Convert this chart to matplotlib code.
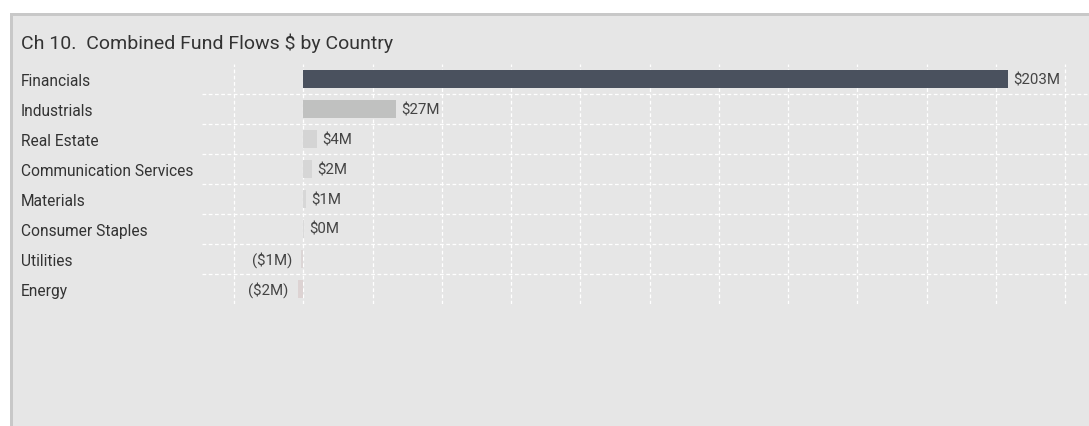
import numpy as np
import matplotlib.pyplot as plt
from matplotlib.patches import Rectangle

# Data
sectors = ['Financials', 'Industrials', 'Real Estate', 'Communication Services',
           'Materials', 'Consumer Staples', 'Utilities', 'Energy']
flows = [203.4, 26.8, 3.9, 2.4, 0.7, 0.3, -0.6, -1.6]  # $M
colors = ['#4a515e', '#c0c1c0', '#d4d4d4', '#d6d6d6', '#d7d7d7', '#dadada',
          '#dcd6d6', '#ddd3d3']

W, H = 1089, 427
plt.rcParams['font.family'] = ['Roboto', 'DejaVu Sans']

fig = plt.figure(figsize=(W / 100, H / 100), dpi=100)
fig.patch.set_facecolor('white')

# Panel with grey border on top and left
fig.patches.append(Rectangle((10 / W, 0), 1, (H - 14) / H, transform=fig.transFigure,
                             facecolor='#c8c8c8', edgecolor='none', zorder=-10))
fig.patches.append(Rectangle((13 / W, 0), 1, (H - 17) / H, transform=fig.transFigure,
                             facecolor='#e6e6e6', edgecolor='none', zorder=-9))

fig.text(21 / W, 1 - 43 / H, 'Ch 10.  Combined Fund Flows $ by Country',
         fontsize=14, color='#333333', ha='left', va='center')

ax = fig.add_axes([202 / W, 1 - 305 / H, (W - 202) / W, 240 / H])
ax.set_facecolor('#e6e6e6')

y = np.arange(len(sectors))
ax.barh(y, flows, height=0.63, color=colors, zorder=2)

ax.set_ylim(len(sectors) - 0.5, -0.5)
ax.set_xlim(-29.26, 226.9)

# value labels
for yi, v in zip(y, flows):
    if v >= 0:
        txt = '${:.0f}M'.format(v)
        ax.annotate(txt, (v, yi), xytext=(3.8, 0), textcoords='offset points',
                    ha='left', va='center', fontsize=10.8, color='#444444', zorder=3)
    else:
        txt = '(${:.0f}M)'.format(abs(v))
        ax.annotate(txt, (v, yi), xytext=(-6.5, 0), textcoords='offset points',
                    ha='right', va='center', fontsize=10.8, color='#444444', zorder=3)

# axes & grid
ax.set_xticks(np.arange(-20, 221, 20))
ax.set_xticklabels([])
ax.set_yticks(y)
ax.set_yticklabels(sectors, ha='left', va='center_baseline', fontsize=11.2, color='#333333')
ax.set_yticks(np.arange(len(sectors) - 1) + 0.5, minor=True)
ax.tick_params(axis='y', which='major', length=0, pad=130.3)
ax.tick_params(axis='both', which='both', length=0)
ax.grid(True, axis='x', which='major', color='white', linestyle=(0, (3, 2)), linewidth=0.9, zorder=1)
ax.grid(True, axis='y', which='minor', color='white', linestyle=(0, (3, 2)), linewidth=0.9, zorder=1)
ax.grid(False, axis='y', which='major')
ax.set_axisbelow(True)
for s in ax.spines.values():
    s.set_visible(False)

plt.savefig('out.png', dpi=100)
